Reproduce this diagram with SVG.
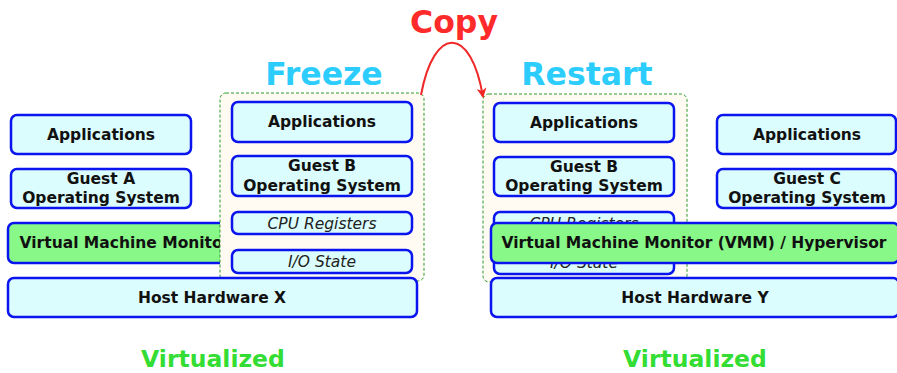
<svg xmlns="http://www.w3.org/2000/svg" width="897" height="373" viewBox="0 0 897 373">
<style>
text{font-family:"DejaVu Sans",sans-serif;text-anchor:middle}
.box{fill:#dcfdfd;stroke:#0a14ee;stroke-width:2.5}
.vmm{fill:#88f888;stroke:#0a14ee;stroke-width:2.5}
.snap{fill:#fffaf2;stroke:#2a9a2a;stroke-width:1;stroke-dasharray:3,2}
.lbl{font-size:15.5px;font-weight:bold;fill:#111}
.it{font-size:15.5px;font-style:italic;fill:#222}
.title{font-size:31.5px;font-weight:bold}
.virt{font-size:23.5px;font-weight:bold;fill:#33dd33}
</style>
<defs>
<marker id="ah" viewBox="0 0 10 10" refX="9" refY="5" markerWidth="13" markerHeight="10" markerUnits="userSpaceOnUse" orient="auto">
<path d="M0,0 L10,5 L0,10 L3,5 Z" fill="#f02828"/>
</marker>
</defs>

<g id="vmm-x"><rect class="vmm" x="8" y="223" width="408" height="40" rx="6"/><text class="lbl" x="212" y="248">Virtual Machine Monitor (VMM) / Hypervisor</text></g>
<g id="apps-a"><rect class="box" x="11" y="115" width="180" height="39" rx="6"/><text class="lbl" x="101" y="139.5">Applications</text></g>
<g id="guest-a"><rect class="box" x="11" y="169" width="180" height="39" rx="6"/><text class="lbl" x="101" y="184">Guest A</text><text class="lbl" x="101" y="202.5">Operating System</text></g>

<g id="freeze">
<rect class="snap" x="220" y="93" width="204" height="188" rx="6"/>
<g id="apps-b1"><rect class="box" x="232" y="102" width="180" height="40" rx="6"/><text class="lbl" x="322" y="126.5">Applications</text></g>
<g id="guest-b1"><rect class="box" x="232" y="156" width="180" height="40" rx="6"/><text class="lbl" x="322" y="171">Guest B</text><text class="lbl" x="322" y="190.5">Operating System</text></g>
<g id="cpu-b1"><rect class="box" x="232" y="212" width="180" height="22" rx="6"/><text class="it" x="322" y="228.5">CPU Registers</text></g>
<g id="io-b1"><rect class="box" x="232" y="250" width="180" height="23" rx="6"/><text class="it" x="322" y="267">I/O State</text></g>
</g>
<g id="host-x"><rect class="box" x="8" y="278" width="409" height="39" rx="6"/><text class="lbl" x="212" y="303">Host Hardware X</text></g>

<g id="restart">
<rect class="snap" x="483" y="94" width="204" height="188" rx="6"/>
<g id="apps-b2"><rect class="box" x="494" y="103" width="180" height="39" rx="6"/><text class="lbl" x="584" y="127.5">Applications</text></g>
<g id="guest-b2"><rect class="box" x="494" y="157" width="180" height="39" rx="6"/><text class="lbl" x="584" y="172">Guest B</text><text class="lbl" x="584" y="190.5">Operating System</text></g>
<g id="cpu-b2"><rect class="box" x="494" y="212" width="180" height="22" rx="6"/><text class="it" x="584" y="228.5">CPU Registers</text></g>
<g id="io-b2"><rect class="box" x="494" y="251" width="180" height="23" rx="6"/><text class="it" x="584" y="268">I/O State</text></g>
</g>
<g id="apps-c"><rect class="box" x="717" y="115" width="179" height="39" rx="6"/><text class="lbl" x="807" y="139.5">Applications</text></g>
<g id="guest-c"><rect class="box" x="717" y="169" width="179" height="39" rx="6"/><text class="lbl" x="807" y="184">Guest C</text><text class="lbl" x="807" y="202.5">Operating System</text></g>
<g id="vmm-y"><rect class="vmm" x="491" y="223" width="408" height="40" rx="6"/><text class="lbl" x="694" y="248">Virtual Machine Monitor (VMM) / Hypervisor</text></g>
<g id="host-y"><rect class="box" x="491" y="278" width="408" height="39" rx="6"/><text class="lbl" x="695" y="303">Host Hardware Y</text></g>

<g id="connectors">
<path d="M421,95 C434,25 471,25 483,97" fill="none" stroke="#f02828" stroke-width="2" marker-end="url(#ah)"/>
</g>

<text class="title" x="454" y="33" fill="#ff2a2a">Copy</text>
<text class="title" x="324" y="85" fill="#2ccdfd">Freeze</text>
<text class="title" x="587" y="85" fill="#2ccdfd">Restart</text>
<text class="virt" x="213" y="367">Virtualized</text>
<text class="virt" x="695" y="367">Virtualized</text>
</svg>
